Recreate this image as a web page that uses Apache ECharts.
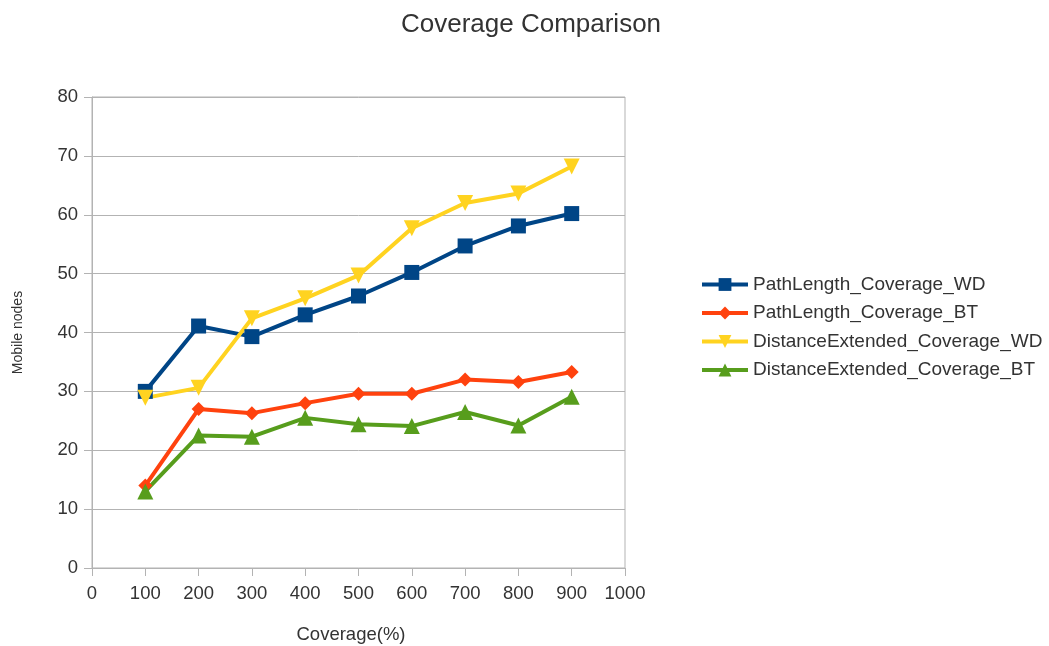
<!DOCTYPE html>
<html>
<head>
<meta charset="utf-8">
<script src="https://cdn.jsdelivr.net/npm/echarts@6/dist/echarts.min.js"></script>
<style>
  html, body { margin: 0; padding: 0; background: #fff; }
  #chart { width: 1049px; height: 646px; }
</style>
</head>
<body>
<div id="chart"></div>
<script>
// coverage values on x
const xValues = [100, 200, 300, 400, 500, 600, 700, 800, 900];
const pathLengthWD = [30, 41.1, 39.3, 43, 46.2, 50.2, 54.7, 58.1, 60.2];
const pathLengthBT = [14, 27, 26.3, 28, 29.6, 29.6, 32, 31.6, 33.3];
const distExtWD = [28.9, 30.6, 42.4, 45.8, 49.7, 57.7, 62, 63.6, 68.2];
const distExtBT = [13, 22.5, 22.3, 25.5, 24.4, 24.1, 26.5, 24.2, 29.1];

const seriesNames = [
  'PathLength_Coverage_WD',
  'PathLength_Coverage_BT',
  'DistanceExtended_Coverage_WD',
  'DistanceExtended_Coverage_BT'
];

const font = 'Liberation Sans, Arial, sans-serif';
const gridColor = '#b3b3b3';

function pairs(vals) {
  return xValues.map((x, i) => [x, vals[i]]);
}

function makeSeries(name, vals, color, symbol, size, rotate) {
  return {
    name: name,
    type: 'line',
    data: pairs(vals),
    symbol: symbol,
    symbolSize: size,
    symbolRotate: rotate || 0,
    showAllSymbol: true,
    lineStyle: { color: color, width: 4 },
    itemStyle: { color: color },
    emphasis: { disabled: true },
    animation: false
  };
}

let chart = echarts.init(document.getElementById('chart'));
let option = {
  backgroundColor: '#fff',
  textStyle: { fontFamily: font },
  title: {
    text: 'Coverage Comparison',
    left: 526,
    top: 7,
    textAlign: 'center',
    textStyle: { fontFamily: font, fontSize: 26, fontWeight: 'normal', color: '#333' }
  },
  legend: {
    orient: 'vertical',
    left: 695,
    top: 270,
    itemWidth: 46,
    itemHeight: 16,
    itemGap: 9.5,
    lineStyle: { width: 4 },
    textStyle: { fontFamily: font, fontSize: 19, color: '#333' },
    data: seriesNames
  },
  grid: {
    show: true,
    borderColor: gridColor,
    borderWidth: 1,
    left: 92,
    right: 424,
    top: 97,
    bottom: 78,
    outerBoundsMode: 'none'
  },
  xAxis: {
    type: 'value',
    min: 0,
    max: 1000,
    interval: 100,
    name: 'Coverage(%)',
    nameLocation: 'middle',
    nameGap: 57,
    nameTextStyle: { fontFamily: font, fontSize: 18.5, color: '#333', padding: [0, 15, 0, 0] },
    axisLine: { show: true, lineStyle: { color: gridColor } },
    axisTick: { show: true, length: 8, lineStyle: { color: gridColor } },
    axisLabel: { fontFamily: font, fontSize: 18.5, color: '#333', margin: 16, formatter: v => String(v) },
    splitLine: { show: false }
  },
  yAxis: {
    type: 'value',
    min: 0,
    max: 80,
    interval: 10,
    name: 'Mobile nodes',
    nameLocation: 'middle',
    nameGap: 67,
    nameTextStyle: { fontFamily: font, fontSize: 14, color: '#333' },
    axisLine: { show: true, lineStyle: { color: gridColor } },
    axisTick: { show: true, length: 8, lineStyle: { color: gridColor } },
    axisLabel: { fontFamily: font, fontSize: 18.5, color: '#333', margin: 14 },
    splitLine: { show: true, lineStyle: { color: gridColor } }
  },
  series: [
    makeSeries(seriesNames[0], pathLengthWD, '#004586', 'rect', 15),
    makeSeries(seriesNames[1], pathLengthBT, '#ff420e', 'diamond', 14),
    makeSeries(seriesNames[2], distExtWD, '#ffd320', 'triangle', 16, 180),
    makeSeries(seriesNames[3], distExtBT, '#579d1c', 'triangle', 16)
  ]
};
chart.setOption(option);
</script>
</body>
</html>
